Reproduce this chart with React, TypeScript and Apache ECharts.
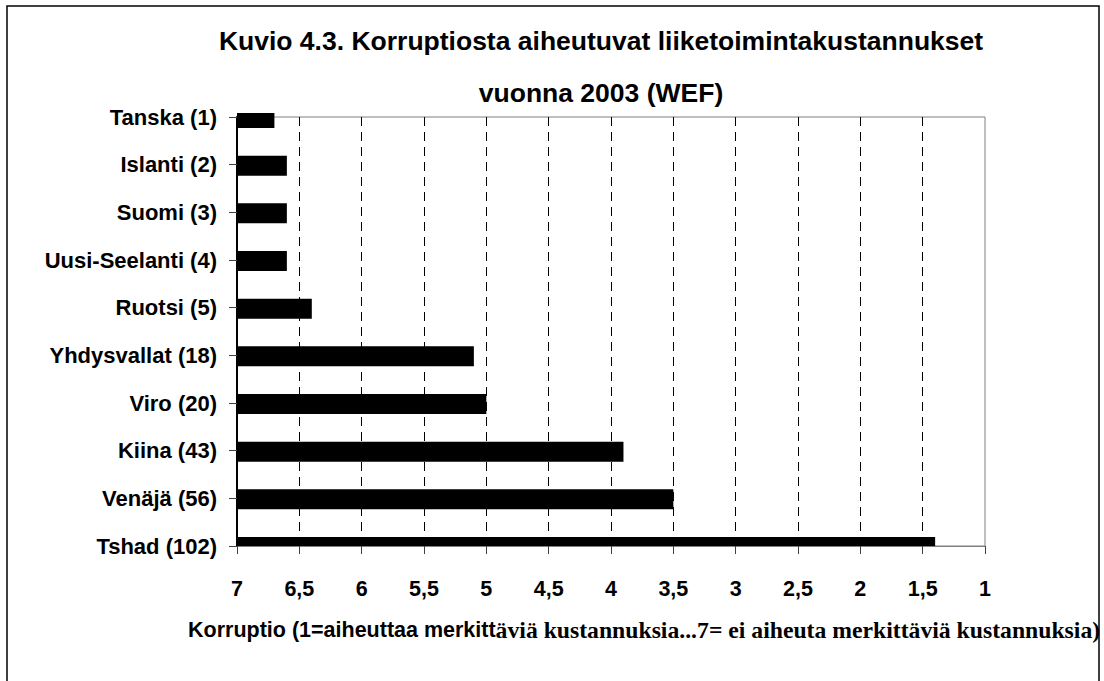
import React, { useEffect, useRef } from 'react';
import * as echarts from 'echarts';

const categories = [
  'Tanska (1)',
  'Islanti (2)',
  'Suomi (3)',
  'Uusi-Seelanti (4)',
  'Ruotsi (5)',
  'Yhdysvallat (18)',
  'Viro (20)',
  'Kiina (43)',
  'Venäjä (56)',
  'Tshad (102)',
];
const values = [6.7, 6.6, 6.6, 6.6, 6.4, 5.1, 5.0, 3.9, 3.5, 1.4];
const scaleMin = 1;
const scaleMax = 7;
const tickStep = 0.5;
const titleLines = [
  'Kuvio 4.3. Korruptiosta aiheutuvat liiketoimintakustannukset',
  'vuonna 2003 (WEF)',
];
const axisTitleSans = 'Korruptio (1=aiheuttaa merkitt';
const axisTitleSerif = 'äviä kustannuksia...7= ei aiheuta merkittäviä kustannuksia)';

const SANS = '"Liberation Sans", Arial, sans-serif';
const SERIF = '"Liberation Serif", "Times New Roman", serif';
const BAR_HEIGHT = 20;

export default function App() {
  const ref = useRef<HTMLDivElement>(null);
  useEffect(() => {
    if (!ref.current) return;
    const chart = echarts.init(ref.current, undefined, { renderer: 'svg' });
    chart.setOption({
      animation: false,
      backgroundColor: '#ffffff',
      title: [
        {
          text: titleLines.join('\n'),
          left: 601,
          top: 15,
          padding: 0,
          textAlign: 'center',
          textStyle: {
            fontFamily: SANS,
            fontWeight: 'bold',
            fontSize: 26.5,
            lineHeight: 52,
            color: '#000',
          },
        },
        {
          text: `{a|${axisTitleSans}}{b|${axisTitleSerif}}`,
          left: 188,
          top: 618,
          padding: 0,
          textStyle: {
            rich: {
              a: { fontFamily: SANS, fontWeight: 'bold', fontSize: 21.5, color: '#000' },
              b: { fontFamily: SERIF, fontWeight: 'bold', fontSize: 23.7, color: '#000' },
            },
          },
        },
      ],
      graphic: [
        {
          type: 'rect',
          shape: { x: 7, y: 6, width: 1092, height: 720 },
          style: { fill: 'none', stroke: '#000', lineWidth: 1.5 },
          silent: true,
          z: 100,
        },
      ],
      grid: {
        left: 237,
        right: 119,
        top: 117,
        bottom: 135,
        show: true,
        borderColor: '#808080',
        borderWidth: 1,
        backgroundColor: 'transparent',
      },
      xAxis: {
        type: 'value',
        min: scaleMin,
        max: scaleMax,
        interval: tickStep,
        inverse: true,
        axisLine: { show: true, lineStyle: { color: '#808080', width: 1 } },
        axisTick: { show: true, length: 8, lineStyle: { color: '#404040' } },
        axisLabel: {
          margin: 32,
          fontFamily: SANS,
          fontWeight: 'bold',
          fontSize: 21.5,
          color: '#000',
          showMinLabel: true,
          showMaxLabel: true,
          formatter: (v: number) => String(v).replace('.', ','),
        },
        splitLine: {
          show: true,
          showMinLine: false,
          showMaxLine: false,
          lineStyle: { color: '#000', width: 1, type: [9, 6] },
        },
      },
      yAxis: {
        type: 'category',
        data: categories,
        inverse: true,
        boundaryGap: false,
        axisLine: { show: true, lineStyle: { color: '#000', width: 2 } },
        axisTick: { show: true, length: 8, lineStyle: { color: '#404040' } },
        axisLabel: {
          margin: 20,
          fontFamily: SANS,
          fontWeight: 'bold',
          fontSize: 22,
          color: '#000',
          interval: 0,
        },
        splitLine: { show: false },
      },
      series: [
        {
          type: 'custom',
          data: values.map((v, i) => [v, i]),
          encode: { x: 0, y: 1 },
          z: 3,
          renderItem: (params: any, api: any) => {
            const idx = api.value(1);
            const start = api.coord([scaleMax, idx]);
            const end = api.coord([api.value(0), idx]);
            const cs = params.coordSys;
            const shape = echarts.graphic.clipRectByRect(
              {
                x: start[0],
                y: start[1] - BAR_HEIGHT / 2 + 1,
                width: end[0] - start[0],
                height: BAR_HEIGHT,
              },
              { x: cs.x, y: cs.y - 4, width: cs.width, height: cs.height + 4 }
            );
            if (!shape) return null;
            return { type: 'rect', shape, style: { fill: '#000' } };
          },
        },
      ],
    });
    return () => chart.dispose();
  }, []);
  return (
    <div
      ref={ref}
      style={{ position: 'absolute', left: 0, top: 0, width: 1104, height: 681 }}
    />
  );
}
